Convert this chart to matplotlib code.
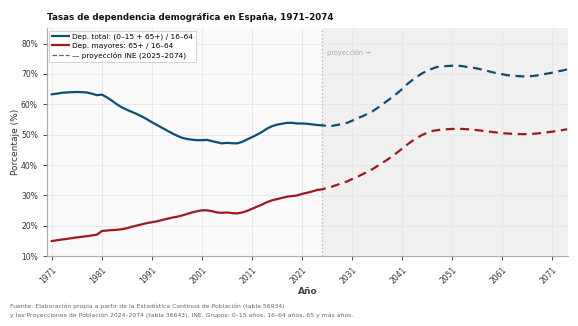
import matplotlib
matplotlib.use("Agg")
import matplotlib.pyplot as plt
from matplotlib.lines import Line2D
from matplotlib.ticker import FuncFormatter

years_hist = list(range(1971, 2025))
total_hist = [63.3, 63.5, 63.8, 63.9, 64.0, 64.05, 64.0, 63.9, 63.5, 63.0,
              63.2, 62.3, 61.2, 60.0, 59.0, 58.2, 57.5, 56.8, 56.0, 55.1,
              54.1, 53.2, 52.3, 51.4, 50.5, 49.7, 49.0, 48.6, 48.35, 48.2,
              48.2, 48.3, 47.9, 47.5, 47.15, 47.3, 47.2, 47.15, 47.6, 48.4,
              49.2, 50.0, 50.9, 52.0, 52.8, 53.3, 53.6, 53.9, 53.9, 53.7,
              53.7, 53.6, 53.4, 53.2]
mayores_hist = [15.0, 15.25, 15.5, 15.7, 15.95, 16.2, 16.4, 16.6, 16.85, 17.1,
                18.3, 18.45, 18.6, 18.7, 18.9, 19.2, 19.7, 20.1, 20.5, 20.9,
                21.2, 21.5, 21.9, 22.3, 22.7, 23.0, 23.4, 23.9, 24.4, 24.8,
                25.1, 25.1, 24.85, 24.4, 24.3, 24.4, 24.2, 24.1, 24.4, 24.9,
                25.6, 26.3, 27.0, 27.8, 28.4, 28.8, 29.2, 29.6, 29.8, 30.0,
                30.5, 30.9, 31.3, 31.8]

years_proj = list(range(2025, 2075))
total_proj = [53.1, 52.9, 52.9, 53.2, 53.5, 53.9, 54.6, 55.4, 56.0, 56.8,
              57.6, 58.7, 59.9, 61.1, 62.3, 63.6, 65.0, 66.6, 67.9, 69.1,
              70.2, 71.0, 71.7, 72.3, 72.5, 72.6, 72.7, 72.7, 72.6, 72.3,
              72.1, 71.8, 71.4, 71.0, 70.6, 70.2, 69.9, 69.6, 69.4, 69.3,
              69.2, 69.2, 69.3, 69.5, 69.8, 70.1, 70.4, 70.8, 71.1, 71.5]
mayores_proj = [32.0, 32.5, 32.9, 33.5, 34.1, 34.6, 35.4, 36.1, 36.9, 37.7,
                38.6, 39.6, 40.7, 41.7, 42.9, 44.1, 45.4, 46.7, 47.9, 49.0,
                49.9, 50.6, 51.2, 51.5, 51.7, 51.8, 51.9, 51.9, 51.9, 51.8,
                51.7, 51.5, 51.3, 51.1, 50.9, 50.7, 50.5, 50.4, 50.3, 50.2,
                50.2, 50.2, 50.3, 50.4, 50.6, 50.8, 51.0, 51.2, 51.5, 51.8]

xticks = list(range(1971, 2072, 10))
BLUE = "#0d4f73"
RED = "#9e1a1a"

fig = plt.figure(figsize=(5.78, 3.26), dpi=100)
fig.patch.set_facecolor("white")
ax = fig.add_axes([0.081, 0.214, 0.902, 0.699])
ax.set_facecolor("#fafafa")

ax.axvspan(2024.9, 2074.2, color="#f0f0f0", zorder=0, lw=0)
ax.axvline(2024.9, color="#bbbbbb", lw=1.0, ls=":", zorder=1)

ax.plot(years_hist, total_hist, color=BLUE, lw=1.6, zorder=3)
ax.plot(years_hist, mayores_hist, color=RED, lw=1.6, zorder=3)
ax.plot([years_hist[-1]] + years_proj, [total_hist[-1]] + total_proj,
        color=BLUE, lw=1.6, ls=(0, (4, 2.5)), zorder=3)
ax.plot([years_hist[-1]] + years_proj, [mayores_hist[-1]] + mayores_proj,
        color=RED, lw=1.6, ls=(0, (4, 2.5)), zorder=3)

ax.text(2026.0, 77.0, "proyección →", fontsize=4.7, color="#aaaaaa", va="center")

ax.set_xlim(1970, 2074.2)
ax.set_ylim(10, 85)
ax.set_xticks(xticks)
ax.set_xticklabels([str(y) for y in xticks], rotation=45, ha="right",
                   rotation_mode="anchor", fontsize=5.5, color="#333333")
ax.set_yticks(range(10, 81, 10))
ax.yaxis.set_major_formatter(FuncFormatter(lambda v, p: f"{v:.0f}%"))
ax.tick_params(axis="y", labelsize=5.5, colors="#333333", length=3, width=0.6)
ax.tick_params(axis="x", length=3, width=0.6, colors="#333333")
ax.grid(True, color="#e6e6e6", lw=0.6, zorder=0)
ax.set_axisbelow(True)
for s in ["top", "right"]:
    ax.spines[s].set_visible(False)
for s in ["left", "bottom"]:
    ax.spines[s].set_color("#aaaaaa")
    ax.spines[s].set_linewidth(0.8)

ax.set_ylabel("Porcentaje (%)", fontsize=6.5, color="#333333", labelpad=1)
ax.set_xlabel("Año", fontsize=6.5, color="#444444", fontweight="bold", labelpad=1)
ax.set_title("Tasas de dependencia demográfica en España, 1971–2074",
             loc="left", fontsize=6.3, fontweight="bold", color="#111111", pad=6)

handles = [Line2D([], [], color=BLUE, lw=1.6),
           Line2D([], [], color=RED, lw=1.6),
           Line2D([], [], color="#666666", lw=0.9, ls="--")]
labels = ["Dep. total: (0–15 + 65+) / 16–64",
          "Dep. mayores: 65+ / 16–64",
          "— proyección INE (2025–2074)"]
leg = ax.legend(handles, labels, loc="upper left", fontsize=5.3, frameon=True,
                fancybox=False, edgecolor="#cccccc", framealpha=1,
                borderpad=0.4, labelspacing=0.35, handlelength=2.3,
                handletextpad=0.4, borderaxespad=0.3)
leg.get_frame().set_linewidth(0.6)

fig.text(0.017, 0.047, "Fuente: Elaboración propia a partir de la Estadística Continua de Población (tabla 56934)\n"
         "y las Proyecciones de Población 2024–2074 (tabla 36643), INE. Grupos: 0–15 años, 16–64 años, 65 y más años.",
         fontsize=4.4, color="#666666", ha="left", va="center", linespacing=1.7)

fig.savefig("out.png", dpi=100)
